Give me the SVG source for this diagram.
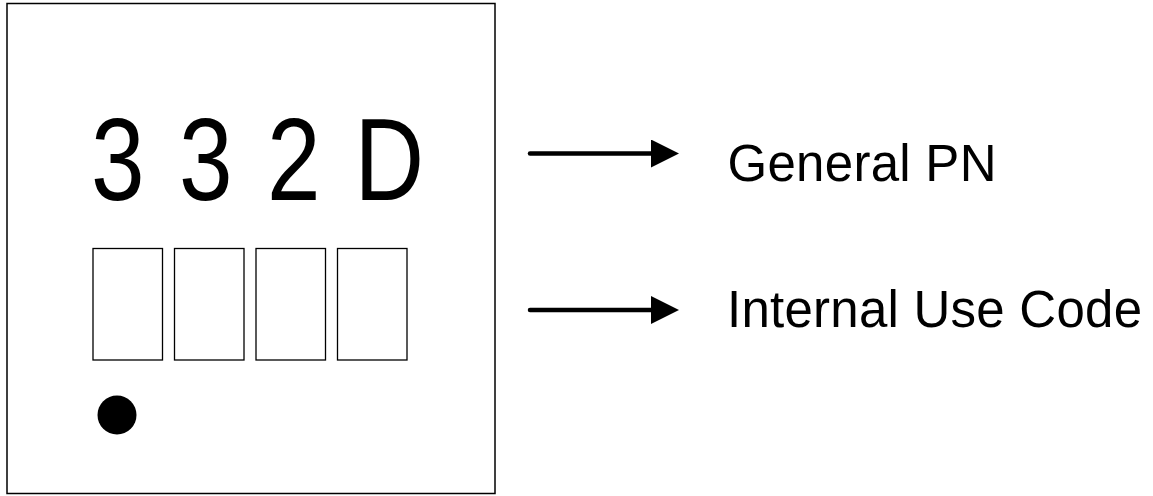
<svg xmlns="http://www.w3.org/2000/svg" width="1153" height="496" viewBox="0 0 1153 496">
  <style>
    .frame { fill: #ffffff; stroke: #000000; stroke-width: 1.5; }
    .cell { fill: #ffffff; stroke: #000000; stroke-width: 1.3; }
    .digit { font-family: "Liberation Sans", Arial, sans-serif; font-size: 116px; fill: #000000; }
    .label { font-family: "Liberation Sans", Arial, sans-serif; font-size: 51px; fill: #000000; }
    .conn { stroke: #000000; stroke-width: 4.5; stroke-linecap: round; fill: none; marker-end: url(#arrow); }
  </style>
  <defs>
    <marker id="arrow" markerUnits="userSpaceOnUse" viewBox="0 0 28 28" refX="0" refY="14" markerWidth="28" markerHeight="28" orient="auto">
      <path d="M0,0 L28,14 L0,28 Z" fill="#000000"/>
    </marker>
  </defs>
  <rect width="1153" height="496" fill="#ffffff"/>
  <g id="chip">
    <rect class="frame" x="7" y="3.5" width="488" height="490"/>
  </g>
  <g id="pn-marking">
    <text class="digit" transform="translate(91,200) scale(0.83,1)">3</text>
    <text class="digit" transform="translate(179,200) scale(0.83,1)">3</text>
    <text class="digit" transform="translate(267,200) scale(0.83,1)">2</text>
    <text class="digit" transform="translate(354.5,200) scale(0.83,1)">D</text>
  </g>
  <g id="code-cells">
    <rect class="cell" x="93" y="248.5" width="69.5" height="111.5"/>
    <rect class="cell" x="174.5" y="248.5" width="69.5" height="111.5"/>
    <rect class="cell" x="256" y="248.5" width="69.5" height="111.5"/>
    <rect class="cell" x="337.5" y="248.5" width="69.5" height="111.5"/>
  </g>
  <g id="pin1-dot">
    <circle cx="117" cy="415" r="19.5" fill="#000000"/>
  </g>
  <g id="label-general">
    <text class="label" x="727.5" y="180.5" textLength="269" lengthAdjust="spacing">General PN</text>
  </g>
  <g id="label-internal">
    <text class="label" x="727" y="326.5" textLength="415" lengthAdjust="spacing">Internal Use Code</text>
  </g>
  <g id="connectors">
    <path class="conn" d="M530,153.5 L651,153.5"/>
    <path class="conn" d="M530,310 L651,310"/>
  </g>
</svg>
